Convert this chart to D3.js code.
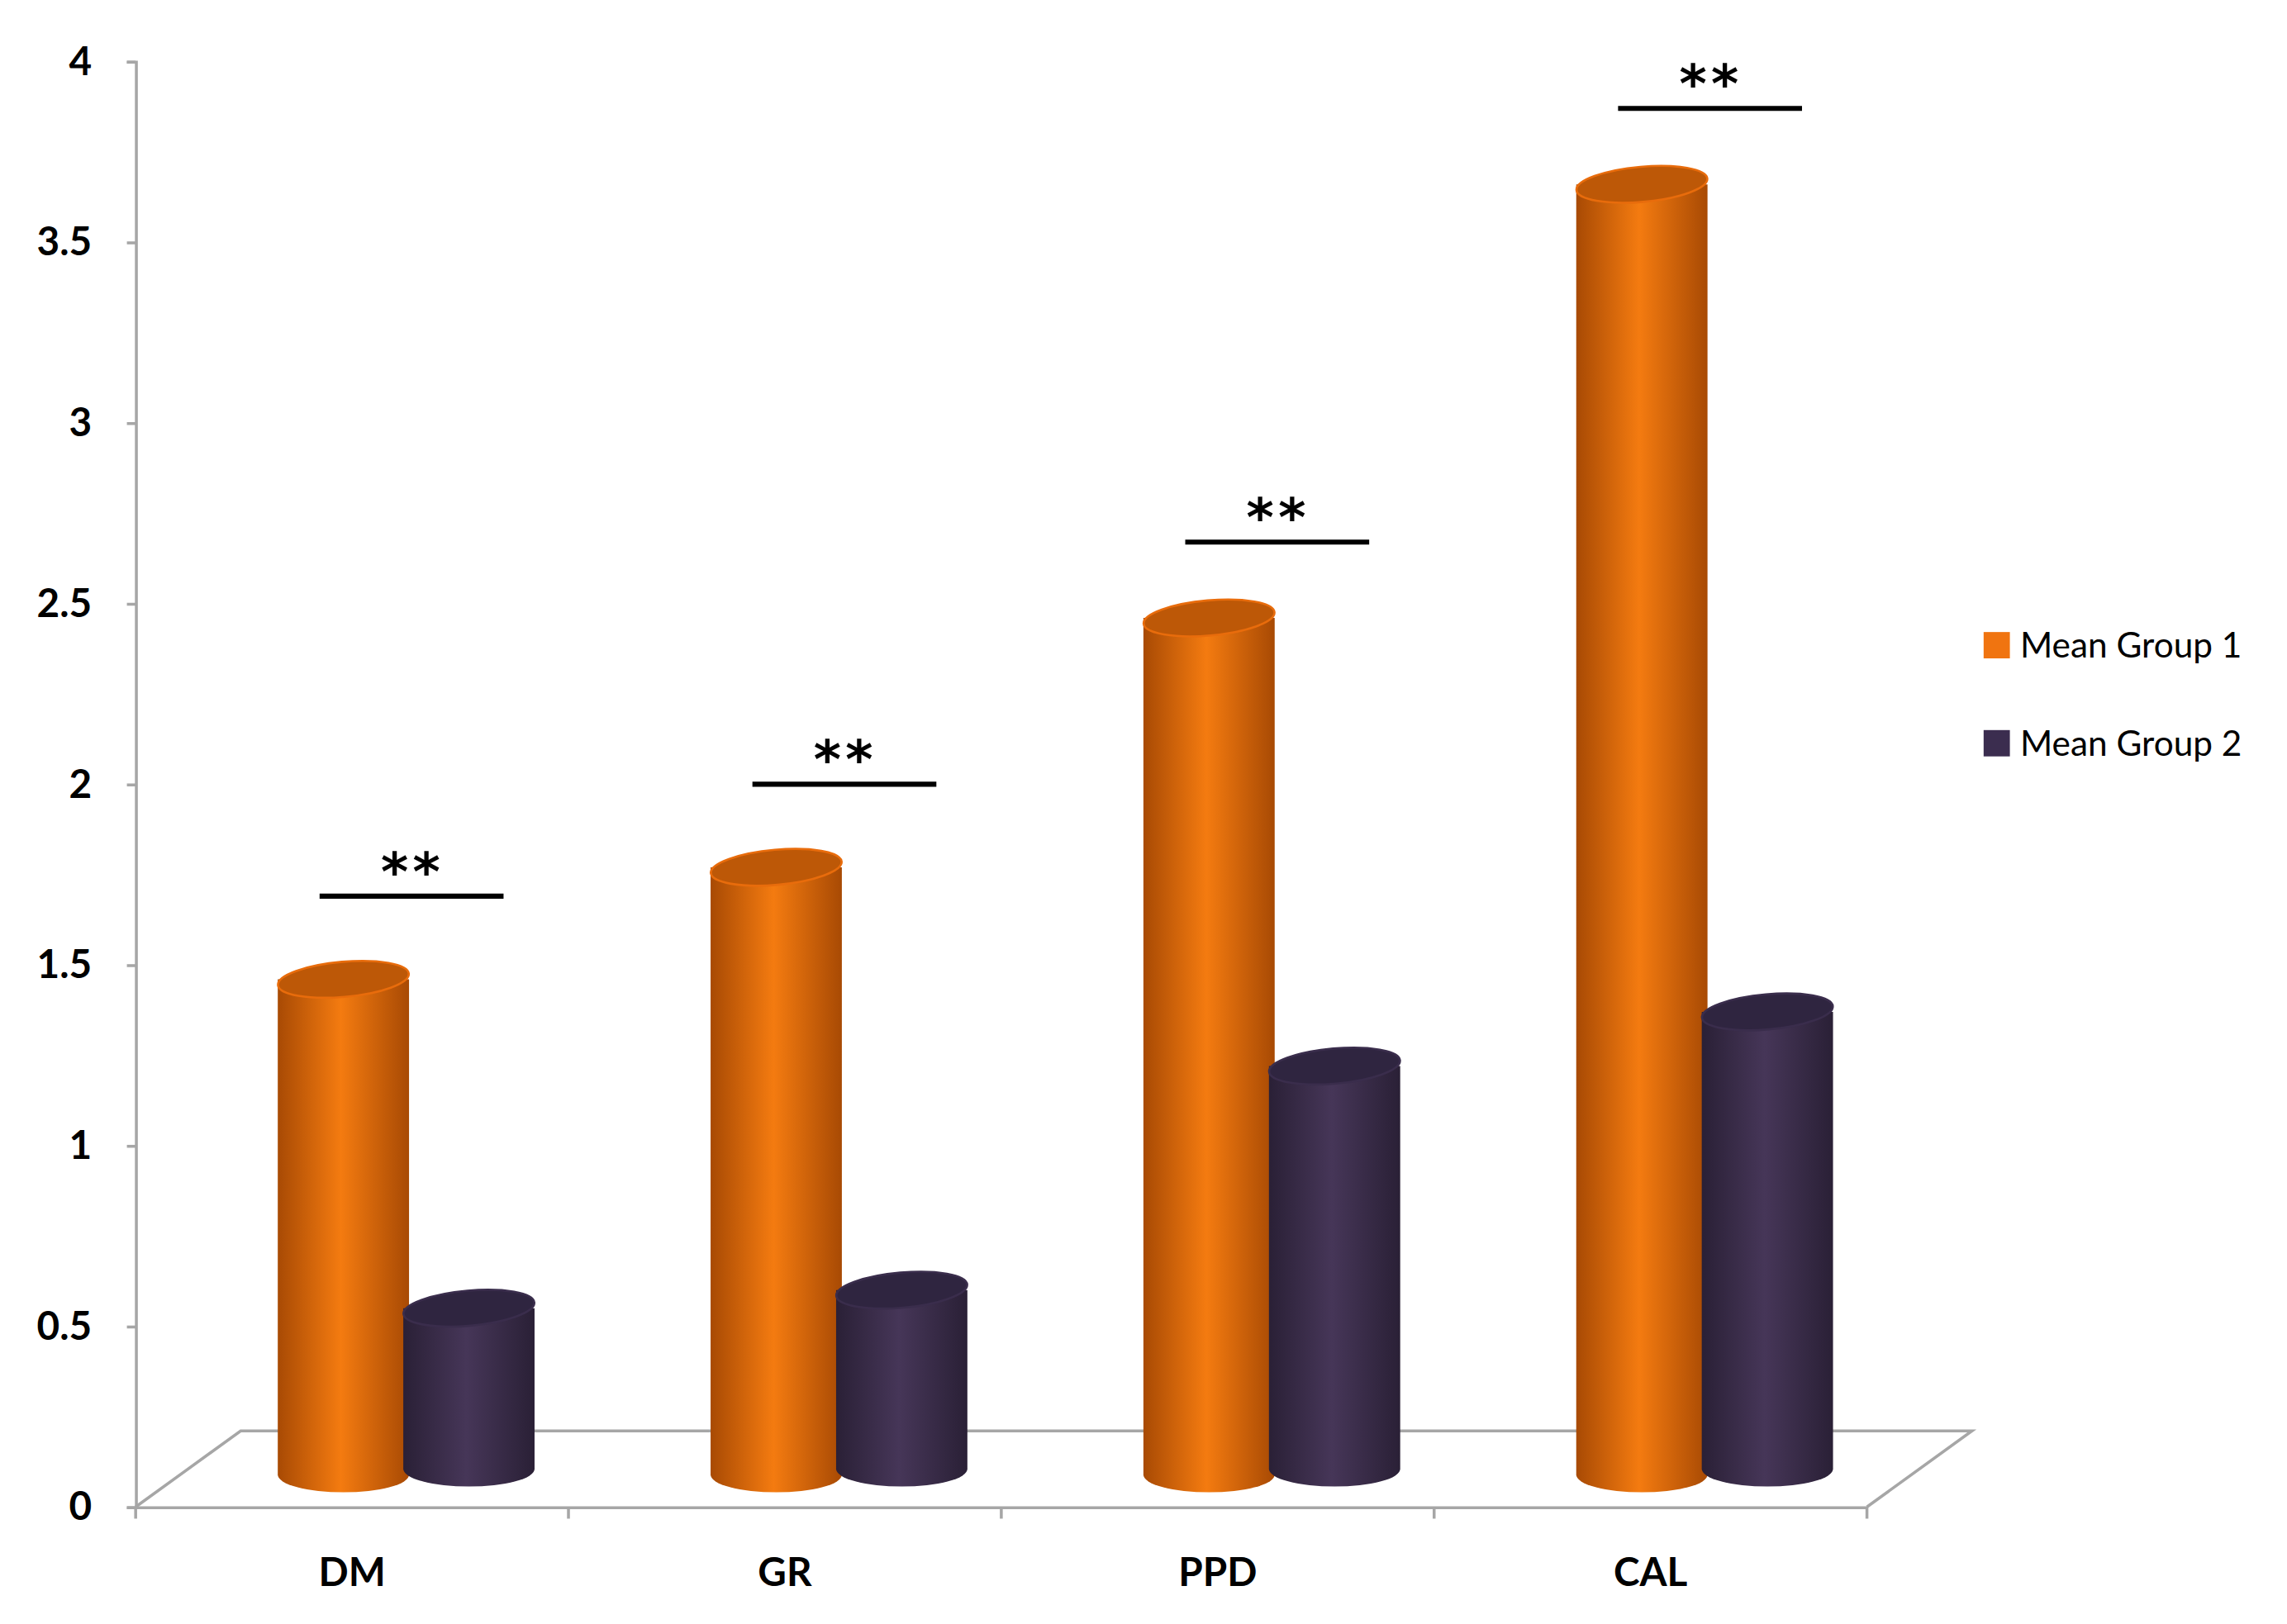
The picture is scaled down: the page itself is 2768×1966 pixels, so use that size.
<!DOCTYPE html>
<html><head><meta charset="utf-8">
<script src="https://cdn.jsdelivr.net/npm/d3@7"></script>
<style>html,body{margin:0;background:#fff}</style></head>
<body><div id="c"></div>
<script>
const categories = ["DM","GR","PPD","CAL"];
const series = ["Mean Group 1","Mean Group 2"];
const group1 = [1.46, 1.77, 2.46, 3.66];
const group2 = [0.55, 0.60, 1.22, 1.37];
const sigLevel = [1.69, 2.0, 2.67, 3.87];
const sigLabel = ["**","**","**","**"];
const yTicks = [0,0.5,1,1.5,2,2.5,3,3.5,4];

const W=1568,H=1110;
const svg=d3.select("#c").append("svg").attr("width",2768).attr("height",1966)
  .attr("viewBox",`0 0 ${W} ${H}`).attr("preserveAspectRatio","none");
const x0=93,x1=1280,yB=1030,yT=42;
const y=d3.scaleLinear().domain([0,4]).range([yB,yT]);
const x=d3.scaleBand().domain(categories).range([x0,x1]);
const defs=svg.append("defs");
function grad(id,edge,mid){const g=defs.append("linearGradient").attr("id",id);
 g.append("stop").attr("offset","0%").attr("stop-color",edge);
 g.append("stop").attr("offset","48%").attr("stop-color",mid);
 g.append("stop").attr("offset","100%").attr("stop-color",edge);}
grad("go","#a84a04","#f47b10");grad("gp","#2a2036","#463658");
const fills=[{g:"url(#go)",top:"#bd5807",sq:"#f07410"},{g:"url(#gp)",top:"#2f2540",sq:"#3b2d4f"}];

const grey="#a6a6a6";
svg.append("path").attr("d",`M${x0},${yB} L165,978 L1352,978 L${x1},${yB}`).attr("fill","none").attr("stroke",grey).attr("stroke-width",2);
const ya=svg.append("g").attr("transform",`translate(${x0},0)`).call(d3.axisLeft(y).tickValues(yTicks).tickSize(6).tickFormat(d=>d));
ya.selectAll("path,line").attr("stroke",grey).attr("stroke-width",2);
ya.selectAll("text").attr("font-family","Lato, 'Open Sans', sans-serif").attr("font-weight","bold").attr("font-size",27).attr("fill","#000").attr("x",-30);
const xa=svg.append("g").attr("transform",`translate(0,${yB})`).call(d3.axisBottom(x).tickSize(0).tickFormat(""));
xa.selectAll("path").attr("stroke",grey).attr("stroke-width",2);
svg.append("g").selectAll("line").data(d3.range(categories.length+1)).join("line")
 .attr("x1",i=>x0+i*x.bandwidth()).attr("x2",i=>x0+i*x.bandwidth()).attr("y1",yB).attr("y2",yB+8).attr("stroke",grey).attr("stroke-width",2);
svg.append("g").selectAll("text").data(categories).join("text")
 .attr("x",d=>x(d)+x.bandwidth()/2).attr("y",1084).attr("text-anchor","middle")
 .attr("font-family","Lato, 'Open Sans', sans-serif").attr("font-weight","bold").attr("font-size",27).text(d=>d);

const bw=x.bandwidth();
const rx=45,ry=12,baseY=1006;
function cyl(cx,val,s){
 const ty=y(val);
 const by=baseY+(s===0?2:-2);
 const g=svg.append("g");
 g.append("path").attr("d",`M${cx-rx},${ty} L${cx-rx},${by} A${rx},${ry} 0 0 0 ${cx+rx},${by} L${cx+rx},${ty} Z`).attr("fill",fills[s].g);
 g.append("ellipse").attr("cx",cx).attr("cy",ty).attr("rx",rx).attr("ry",ry)
  .attr("transform",`rotate(-5,${cx},${ty})`).attr("fill",fills[s].top).attr("stroke",s===0?"#e86c0c":"#3a2d4c").attr("stroke-width",1.5);
}
categories.forEach((c,i)=>{
 cyl(x(c)+bw*0.48,group1[i],0);
 cyl(x(c)+bw*0.77,group2[i],1);
 const ly=y(sigLevel[i]);
 svg.append("line").attr("x1",x(c)+bw*0.425).attr("x2",x(c)+bw*0.85).attr("y1",ly).attr("y2",ly).attr("stroke","#000").attr("stroke-width",3.5);
 svg.append("text").attr("x",x(c)+bw*0.64).attr("y",ly-4).attr("text-anchor","middle")
  .attr("font-family","'DejaVu Sans', sans-serif").attr("font-weight","bold").attr("font-size",36).attr("letter-spacing",3).text(sigLabel[i]);
});
series.forEach((s,i)=>{
 const ly=441+i*67;
 svg.append("rect").attr("x",1360).attr("y",ly-9).attr("width",18).attr("height",18).attr("fill",fills[i].sq);
 svg.append("text").attr("x",1385).attr("y",ly).attr("dy","0.35em").attr("font-family","Lato, 'Open Sans', sans-serif").attr("font-size",24).text(s);
});
</script></body></html>
